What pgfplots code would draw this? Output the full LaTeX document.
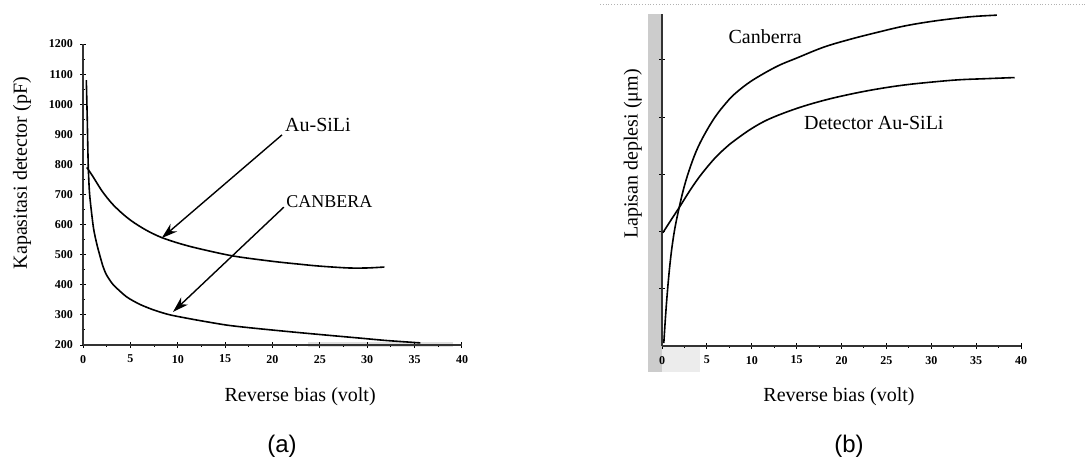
\documentclass[border=0pt]{standalone}
\usepackage{pgfplots}
\pgfplotsset{compat=1.18}
\usepackage{fontspec}
\setmainfont{Liberation Serif}
\newfontfamily\arialfont{Liberation Sans}
\usetikzlibrary{arrows.meta}
\begin{document}
\begin{tikzpicture}
\path[use as bounding box] (0,0) rectangle (542.5pt,231pt);
% scanned-page decorations
\fill[gray!40] (324pt,45pt) rectangle (331pt,224pt);
\fill[gray!15] (331pt,45pt) rectangle (350pt,58pt);
\fill[gray!25] (154pt,57.5pt) rectangle (226.5pt,60pt);
\draw[gray!60, densely dotted] (300pt,229pt) -- (542.5pt,229pt);
\pgfplotsset{
  common/.style={
    scale only axis, axis lines=left,
    axis line style={-, black!80, line width=0.6pt},
    tick style={black, line width=0.5pt},
    major tick length=3pt, minor tick length=1.5pt, tick align=center,
    xmin=0, xmax=40, xtick={0,5,...,40}, minor x tick num=1,
    tick label style={font=\fontsize{6}{7}\selectfont\bfseries},
    /pgf/number format/assume math mode=true,
    /pgf/number format/1000 sep={},
    label style={font=\fontsize{10}{12}\selectfont},
    clip=false,
  }
}
% ---------------- (a) ----------------
\begin{axis}[common,
  at={(41.5pt,58.5pt)}, anchor=south west,
  width=189.5pt, height=150.5pt,
  ymin=200, ymax=1200, ytick={200,300,...,1200}, minor y tick num=1,
  xlabel={Reverse bias (volt)},
  xlabel style={at={(rel axis cs:0.573,-0.173)}, anchor=center},
  ylabel={Kapasitasi detector (pF)},
  ylabel style={at={(rel axis cs:-0.161,0.571)}, anchor=center},
]
\addplot[black, line width=0.8pt, smooth, tension=0.5] coordinates {
 (0.4,790) (1,762) (2,712) (3,672) (4,641) (5,615) (6,594) (7,576)
 (8.3,557) (10,539) (12,522) (15.8,496) (20,478) (23,468) (25,462)
 (28,456) (30,456) (31.8,459)};
\addplot[black, line width=0.8pt, smooth, tension=0.4] coordinates {
 (0.35,1080) (0.45,950) (0.55,800) (0.7,700) (1.1,590) (1.5,530)
 (2.1,462) (2.5,432) (3.2,400) (4.6,360) (6,335) (7.5,316) (9.2,300)
 (12,283) (15.2,266) (18,256) (22.2,243) (26,232) (29.2,223) (32,215)
 (35.6,207)};
\draw[-{Stealth[length=8pt,width=5pt]}, line width=0.7pt] (axis cs:21.0,898) -- (axis cs:8.3,555);
\draw[-{Stealth[length=8pt,width=5pt]}, line width=0.7pt] (axis cs:21.2,658) -- (axis cs:9.5,310);
\node[font=\fontsize{10}{12}\selectfont] at (axis cs:24.8,931) {Au-SiLi};
\node[font=\fontsize{9}{11}\selectfont] at (axis cs:26.0,675) {CANBERA};
\end{axis}
% ---------------- (b) ----------------
\begin{axis}[common,
  at={(331pt,58pt)}, anchor=south west,
  width=179.5pt, height=166pt,
  ymin=0, ymax=5.8, ytick={1,2,3,4,5}, yticklabels={},
  xlabel={Reverse bias (volt)},
  xlabel style={at={(rel axis cs:0.493,-0.154)}, anchor=center},
  ylabel={Lapisan deplesi (μm)},
  ylabel style={at={(rel axis cs:-0.081,0.578)}, anchor=center},
]
\addplot[black, line width=0.8pt, smooth, tension=0.6] coordinates {
 (0.1,1.98) (1,2.20) (2,2.44) (3,2.69) (4,2.92) (5,3.12) (6,3.30)
 (7,3.45) (8,3.58) (10,3.80) (12,3.97) (15,4.15) (18,4.29) (21,4.40)
 (24,4.49) (27,4.56) (30,4.61) (33,4.65) (36,4.67) (39.3,4.69)};
\addplot[black, line width=0.8pt, smooth, tension=0.6] coordinates {
 (0.2,0.05) (0.5,0.75) (0.9,1.45) (1.35,1.98) (1.9,2.41) (2.5,2.80)
 (3.2,3.15) (4,3.47) (5,3.77) (6,4.02) (7,4.22) (8,4.39) (9.5,4.58)
 (11,4.73) (13,4.90) (15,5.03) (18,5.22) (21,5.36) (24,5.48) (27,5.59)
 (30,5.67) (33,5.73) (35,5.76) (37.3,5.78)};
\node[font=\fontsize{10}{12}\selectfont] at (axis cs:11.5,5.40) {Canberra};
\node[font=\fontsize{10}{12}\selectfont] at (axis cs:23.6,3.90) {Detector Au-SiLi};
\end{axis}
\node[font=\arialfont\fontsize{12}{14}\selectfont] at (141pt,8pt) {(a)};
\node[font=\arialfont\fontsize{12}{14}\selectfont] at (424.5pt,8pt) {(b)};
\end{tikzpicture}
\end{document}
